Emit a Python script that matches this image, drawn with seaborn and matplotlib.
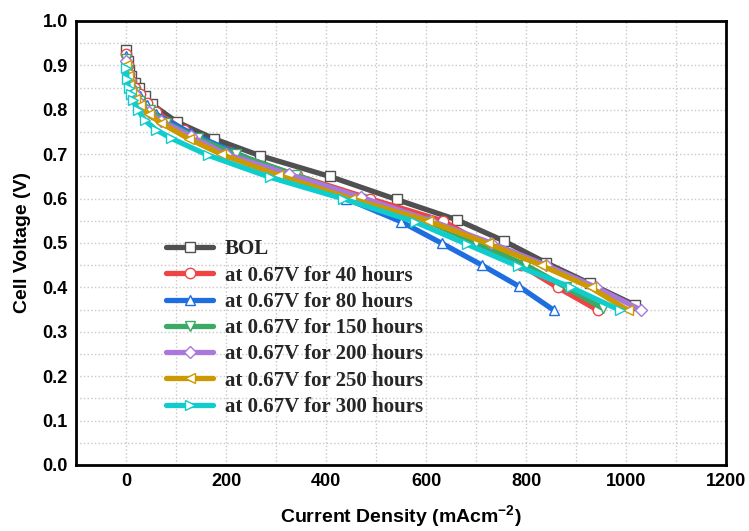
import seaborn as sns
import matplotlib.pyplot as plt
import pandas as pd
import numpy as np
from matplotlib.ticker import MultipleLocator

# Polarization curves (current density in mA/cm2, voltage in V)
bol_j = [0, 3, 6, 10, 17, 25, 38, 51, 101, 175, 267, 407, 541, 662, 755, 839, 927, 1018]
bol_v = [0.935, 0.91, 0.89, 0.875, 0.86, 0.85, 0.83, 0.813, 0.773, 0.735, 0.697, 0.65, 0.598, 0.552, 0.505, 0.456, 0.409, 0.36]

h40_j = [0, 3, 6, 10, 17, 27, 42, 60, 115, 205, 341, 487, 633, 712, 790, 863, 943]
h40_v = [0.925, 0.90, 0.88, 0.865, 0.85, 0.835, 0.815, 0.795, 0.755, 0.705, 0.652, 0.60, 0.55, 0.50, 0.45, 0.40, 0.349]

h80_j = [0, 3, 6, 10, 17, 27, 42, 60, 130, 213, 320, 440, 550, 632, 712, 785, 855]
h80_v = [0.92, 0.895, 0.875, 0.86, 0.845, 0.83, 0.81, 0.79, 0.747, 0.706, 0.653, 0.60, 0.548, 0.499, 0.45, 0.403, 0.349]

h150_j = [0, 3, 6, 10, 17, 28, 47, 80, 143, 220, 340, 470, 600, 700, 800, 880, 953]
h150_v = [0.915, 0.89, 0.87, 0.855, 0.84, 0.82, 0.80, 0.771, 0.736, 0.70, 0.653, 0.60, 0.55, 0.50, 0.45, 0.40, 0.353]

h200_j = [0, 3, 6, 10, 17, 28, 45, 70, 130, 200, 325, 470, 610, 730, 840, 940, 1030]
h200_v = [0.91, 0.885, 0.865, 0.85, 0.835, 0.815, 0.795, 0.775, 0.74, 0.70, 0.655, 0.603, 0.55, 0.50, 0.45, 0.40, 0.349]

h250_j = [0, 3, 6, 10, 17, 28, 45, 70, 125, 190, 303, 450, 603, 723, 830, 929, 1003]
h250_v = [0.90, 0.875, 0.855, 0.84, 0.825, 0.81, 0.79, 0.77, 0.735, 0.70, 0.653, 0.60, 0.55, 0.499, 0.45, 0.40, 0.349]

h300_j = [0, 2, 5, 9, 13, 24, 37, 60, 90, 163, 288, 433, 577, 682, 783, 890, 987]
h300_v = [0.895, 0.87, 0.85, 0.835, 0.822, 0.80, 0.777, 0.755, 0.736, 0.698, 0.648, 0.60, 0.548, 0.497, 0.448, 0.40, 0.349]

labels = ['BOL', 'at 0.67V for 40 hours', 'at 0.67V for 80 hours', 'at 0.67V for 150 hours',
          'at 0.67V for 200 hours', 'at 0.67V for 250 hours', 'at 0.67V for 300 hours']
colors = ['#505050', '#ee4444', '#1e6ee0', '#3aaa66', '#aa77dd', '#cc9900', '#11cccc']
markers = ['s', 'o', '^', 'v', 'D', '<', '>']

# Build one long table for seaborn
series = [(bol_j, bol_v), (h40_j, h40_v), (h80_j, h80_v), (h150_j, h150_v),
          (h200_j, h200_v), (h250_j, h250_v), (h300_j, h300_v)]
frames = []
for lab, (j, v) in zip(labels, series):
    frames.append(pd.DataFrame({'j': j, 'v': v, 'label': lab}))
df = pd.concat(frames, ignore_index=True)

sns.set_style('white')
plt.rcParams['font.family'] = ['Liberation Sans', 'DejaVu Sans']
plt.rcParams['font.weight'] = 'bold'
plt.rcParams['mathtext.fontset'] = 'custom'
plt.rcParams['mathtext.rm'] = 'Liberation Sans:bold'
plt.rcParams['mathtext.bf'] = 'Liberation Sans:bold'
plt.rcParams['mathtext.default'] = 'bf'

fig = plt.figure(figsize=(7.49, 5.31), dpi=100)
ax = fig.add_axes([0.1015, 0.1243, 0.8678, 0.8362])

for lab, col, mk in zip(labels, colors, markers):
    sub = df[df['label'] == lab]
    ms = 6.5 if mk == 'D' else 7.5
    sns.lineplot(data=sub, x='j', y='v', ax=ax, color=col, lw=3.8, marker=mk,
                 markersize=ms, markerfacecolor='white', markeredgecolor=col,
                 markeredgewidth=1.0, label=lab, sort=False, estimator=None)

ax.set_xlim(-100, 1200)
ax.set_ylim(0, 1.0)
ax.xaxis.set_major_locator(MultipleLocator(200))
ax.xaxis.set_minor_locator(MultipleLocator(100))
ax.yaxis.set_major_locator(MultipleLocator(0.1))
ax.yaxis.set_minor_locator(MultipleLocator(0.05))
ax.grid(which='both', color='#c8c8c8', linestyle=':', linewidth=1.0)
ax.set_axisbelow(True)

ax.tick_params(which='major', direction='in', length=6, width=1.5, top=False, right=False,
               labelsize=13, labelcolor='black', pad=6)
ax.tick_params(which='minor', direction='in', length=3.5, width=1.5, top=False, right=False)
for s in ax.spines.values():
    s.set_linewidth(2)
    s.set_color('black')

for t in ax.get_xticklabels() + ax.get_yticklabels():
    t.set_fontweight('bold')

ax.set_xlabel('Current Density (mAcm$^{-2}$)', fontsize=14, fontweight='bold',
              color='black', labelpad=9)
ax.set_ylabel('Cell Voltage (V)', fontsize=14, fontweight='bold', color='black',
              labelpad=8)

leg = ax.legend(loc='upper left', bbox_to_anchor=(0.126, 0.527), frameon=False,
                prop={'family': 'Liberation Serif', 'weight': 'bold', 'size': 15},
                handlelength=2.25, labelspacing=0.3, handletextpad=0.55, borderaxespad=0)

fig.savefig('out.png', dpi=100)
